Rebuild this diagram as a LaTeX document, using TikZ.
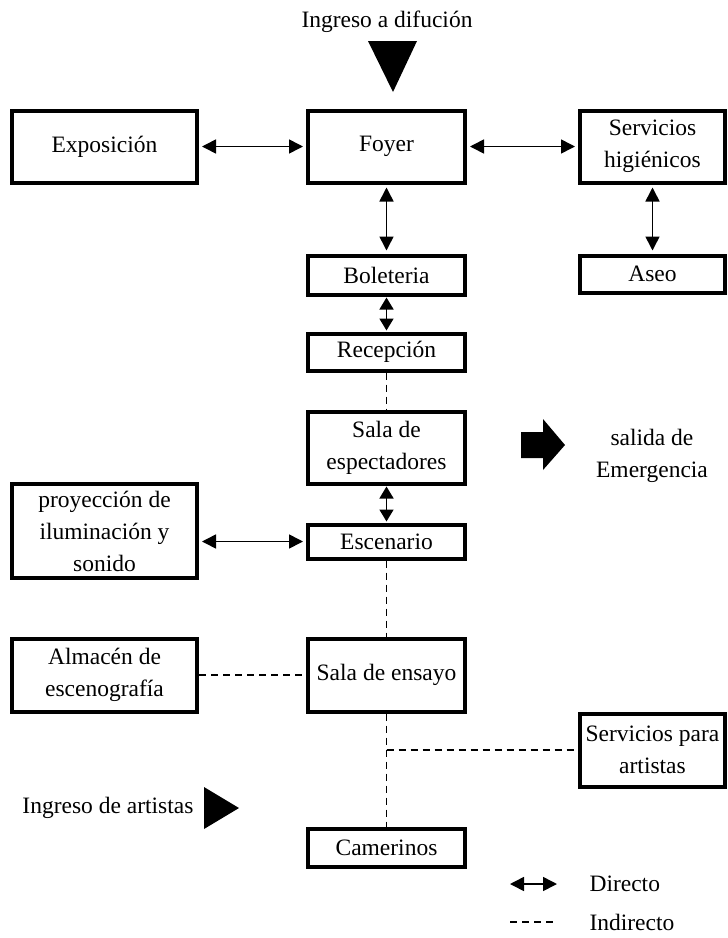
\documentclass[tikz,border=0pt]{standalone}
\usepackage{fontspec}
\setmainfont{Liberation Serif}
\usetikzlibrary{arrows.meta}
\begin{document}
\begin{tikzpicture}[x=1pt, y=-1pt,
	every node/.style={font=\fontsize{23.5}{32}\selectfont, align=center},
	caja/.style={draw, line width=4pt, inner sep=0pt, minimum height=#1},
	izq/.style={caja=#1, minimum width=185pt},
	cen/.style={caja=#1, minimum width=157pt},
	der/.style={caja=#1, minimum width=145pt},
	directo/.style={line width=1.6pt, shorten >=3pt, shorten <=3pt,
		{Triangle[length=14pt,width=14pt]}-{Triangle[length=14pt,width=14pt]}},
	corto/.style={directo, shorten >=1pt, shorten <=1pt,
		{Triangle[length=12pt,width=14pt]}-{Triangle[length=12pt,width=14pt]}},
	indirecto/.style={line width=1.6pt, dash pattern=on 7pt off 5pt}]
\useasboundingbox (0,0) rectangle (728,938);
\node (ingreso) at (387,22) {Ingreso a difución};
\fill (368,41) -- (417,41) -- (393,92) -- cycle;
\node [izq=72pt] (expo) at (104.5,146.5) {Exposición};
\node [cen=72pt] (foyer) at (386.5,146.5) {Foyer};
\node [der=72pt] (higien) at (652.5,146.5) {Servicios\\higiénicos};
\node [cen=39pt] (boleteria) at (386.5,275) {Boleteria};
\node [der=37pt] (aseo) at (652.5,274) {Aseo};
\node [cen=37pt] (recepcion) at (386.5,352) {Recepción};
\node [cen=72pt] (espect) at (386.5,447.5) {Sala de\\espectadores};
\node [cen=34pt] (escenario) at (386.5,541.5) {Escenario};
\node [izq=94pt] (proyec) at (104.5,531) {proyección de\\iluminación y\\sonido};
\node [izq=73pt] (almacen) at (104.5,675) {Almacén de\\escenografía};
\node [cen=73pt] (ensayo) at (386.5,675) {Sala de ensayo};
\node [der=73pt] (servart) at (652.5,750) {Servicios para\\artistas};
\node [cen=38pt] (camerinos) at (386.5,847.5) {Camerinos};
\fill (521,432) -- (543,432) -- (543,419) -- (565,445) -- (543,470) -- (543,458) -- (521,458) -- cycle;
\node (salida) at (652,456) {salida de\\Emergencia};
\node [anchor=east] (artistas) at (197,808) {Ingreso de artistas};
\fill (204,787) -- (204,829) -- (239,808) -- cycle;
\draw [directo] (expo) -- (foyer);
\draw [directo] (foyer) -- (higien);
\draw [directo] (foyer) -- (boleteria);
\draw [directo] (higien) -- (aseo);
\draw [corto] (boleteria) -- (recepcion);
\draw [corto] (espect) -- (escenario);
\draw [directo] (proyec.east |- escenario.west) -- (escenario.west);
\draw [indirecto] (recepcion) -- (espect);
\draw [indirecto] (escenario) -- (ensayo);
\draw [indirecto] (almacen) -- (ensayo);
\draw [indirecto] (ensayo) -- (camerinos);
\draw [indirecto] (ensayo.south |- servart.west) -- (servart.west);
\coordinate (d1) at (510,884);
\coordinate (d2) at (557,884);
\coordinate (i1) at (510,922);
\coordinate (i2) at (557,922);
\draw [directo, shorten >=0pt, shorten <=0pt] (d1) -- (d2);
\draw [indirecto] (i1) -- (i2);
\node [anchor=west] (directo) at (586,884) {Directo};
\node [anchor=west] (indirecto) at (586,922) {Indirecto};
\end{tikzpicture}
\end{document}
